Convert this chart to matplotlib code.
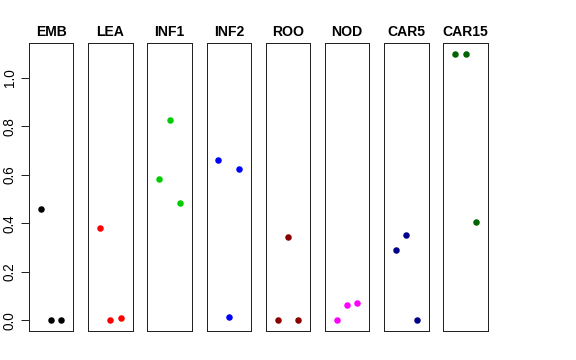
import matplotlib
matplotlib.use("Agg")
import matplotlib.pyplot as plt
import numpy as np

plt.rcParams['font.family'] = ['Liberation Sans', 'DejaVu Sans']

# tissues and their three values each
tissues = ["EMB", "LEA", "INF1", "INF2", "ROO", "NOD", "CAR5", "CAR15"]
values = [
    [0.459, 0.0, 0.0],
    [0.379, 0.0, 0.011],
    [0.582, 0.824, 0.482],
    [0.659, 0.012, 0.622],
    [0.0, 0.342, 0.0],
    [0.0, 0.064, 0.073],
    [0.290, 0.350, 0.0],
    [1.098, 1.098, 0.404],
]
colors = ["black", "#FF0000", "#00CD00", "#0000FF", "#8B0000", "#FF00FF", "#00008B", "#006400"]
yticks = [0.0, 0.2, 0.4, 0.6, 0.8, 1.0]

# R-style 4% axis expansion
allv = np.array(values)
lo, hi = allv.min(), allv.max()
pad = 0.04 * (hi - lo)
ylim = (lo - pad, hi + pad)
xlim = (0 - 0.16, 4 + 0.16)

fig = plt.figure(figsize=(8, 5), dpi=72)
W, H = 576.0, 360.0
left0, step, width = 29.0, 59.2, 44.3
top, bottom = 43.3, 331.0

for i, (name, vals, col) in enumerate(zip(tissues, values, colors)):
    ax = fig.add_axes([(left0 + i * step) / W, (H - bottom) / H,
                       width / W, (bottom - top) / H])
    ax.plot([1, 2, 3], vals, 'o', color=col, markersize=6.5, markeredgewidth=0)
    ax.set_xlim(*xlim)
    ax.set_ylim(*ylim)
    ax.set_xticks([])
    ax.set_title(name, fontsize=14, fontweight='bold', pad=7)
    for s in ax.spines.values():
        s.set_linewidth(1.0)
        s.set_color('#222222')
    if i == 0:
        ax.set_yticks(yticks)
        ax.set_yticklabels([f"{t:.1f}" for t in yticks], rotation=90,
                           va='center', fontsize=13.5)
        ax.tick_params(axis='y', length=8, width=1, pad=4, color='#222222')
    else:
        ax.set_yticks([])

fig.savefig("out.png", dpi=72)
